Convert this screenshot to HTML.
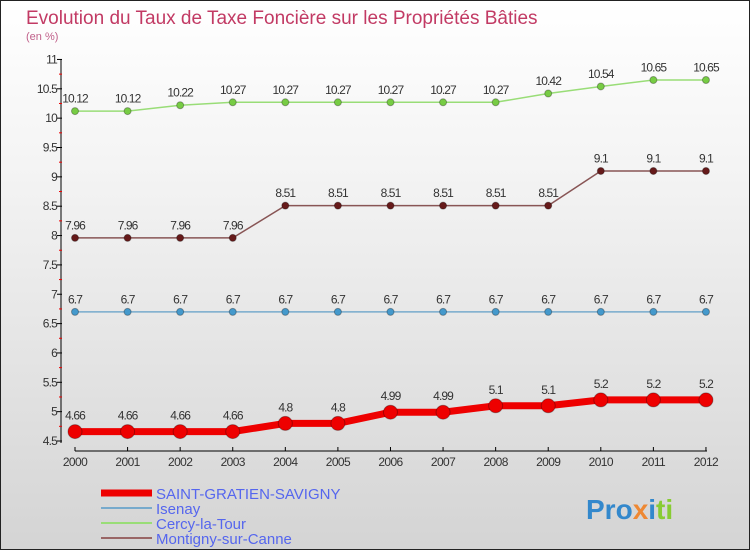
<!DOCTYPE html>
<html><head><meta charset="utf-8"><style>
body{margin:0;}
#c{width:748px;height:548px;border:1px solid #222;background:linear-gradient(#fff,#f4f4f4 30%,#d4d4d4);position:relative;font-family:"Liberation Sans",sans-serif;overflow:hidden}
</style></head><body>
<div id="c">
<svg id="s" width="748" height="548"></svg>
</div>
<script>
const years=[2000,2001,2002,2003,2004,2005,2006,2007,2008,2009,2010,2011,2012];
const saint=[4.66,4.66,4.66,4.66,4.8,4.8,4.99,4.99,5.1,5.1,5.2,5.2,5.2];
const isenay=[6.7,6.7,6.7,6.7,6.7,6.7,6.7,6.7,6.7,6.7,6.7,6.7,6.7];
const cercy=[10.12,10.12,10.22,10.27,10.27,10.27,10.27,10.27,10.27,10.42,10.54,10.65,10.65];
const montigny=[7.96,7.96,7.96,7.96,8.51,8.51,8.51,8.51,8.51,8.51,9.1,9.1,9.1];
const yTicks=[4.5,5,5.5,6,6.5,7,7.5,8,8.5,9,9.5,10,10.5,11];
const NS="http://www.w3.org/2000/svg",s=document.getElementById('s');
const X=i=>74+i*52.58, Y=v=>440-(v-4.5)*58.7;
function el(t,a,p){const e=document.createElementNS(NS,t);for(const k in a)e.setAttribute(k,a[k]);(p||s).appendChild(e);return e;}
let t=el('text',{x:25,y:23,fill:'#c23a64','font-size':19});t.textContent='Evolution du Taux de Taxe Foncière sur les Propriétés Bâties';

t=el('text',{x:25,y:39,fill:'#c0608a','font-size':11});t.textContent='(en %)';

el('line',{x1:60,y1:58,x2:60,y2:442,stroke:'#000'});
el('line',{x1:74,y1:450,x2:706,y2:450,stroke:'#000'});
yTicks.forEach(v=>{el('line',{x1:56,x2:61,y1:Y(v),y2:Y(v),stroke:'#000'});
 el('line',{x1:58,x2:61,y1:Y(v+0.25),y2:Y(v+0.25),stroke:v<11?'#e00':'none'});
 const l=el('text',{x:56,y:Y(v)+4,'text-anchor':'end','font-size':12,fill:'#333','letter-spacing':'-0.8'});l.textContent=v;
 });
years.forEach((y,i)=>{el('line',{x1:X(i),x2:X(i),y1:446,y2:450,stroke:'#000'});
 const l=el('text',{x:X(i),y:465,'text-anchor':'middle','font-size':12,fill:'#333','letter-spacing':'-0.6'});l.textContent=y;
 });
function series(d,col,dot,w,r,name){
 const p=el('polyline',{points:d.map((v,i)=>X(i)+','+Y(v)).join(' '),fill:'none',stroke:col,'stroke-width':w});
 
 d.forEach((v,i)=>{const c=el('circle',{cx:X(i),cy:Y(v),r:r,fill:dot,stroke:'rgba(0,0,0,0.3)'});
  
  const l=el('text',{x:X(i),y:Y(v)-(r+5),'text-anchor':'middle','font-size':12,fill:'#333','letter-spacing':'-0.9'});l.textContent=v;
  });
}
series(cercy,'#99dd77','#77cc44',1.5,3.5,'cercy');
series(montigny,'#885555','#661a1a',1.5,3.5,'montigny');
series(isenay,'#77aacc','#4499cc',1.5,3.5,'isenay');
series(saint,'#ee0000','#ee0000',7,7,'saint-gratien');
const leg=[['SAINT-GRATIEN-SAVIGNY','#ee0000',7],['Isenay','#77aacc',2],['Cercy-la-Tour','#99dd77',2],['Montigny-sur-Canne','#996666',2]];
leg.forEach((g,i)=>{const y=492+i*15;
 const gg=el('g',{});
 el('line',{x1:100,x2:151,y1:y,y2:y,stroke:g[1],'stroke-width':g[2]},gg);
 const l=el('text',{x:155,y:y+6,'font-size':15,fill:'#5566ee'},gg);l.textContent=g[0];});
t=el('text',{x:585,y:518,'font-size':28,'font-weight':'bold',fill:'#3388cc'});t.innerHTML='Pro<tspan fill="#ee8833">x</tspan>i<tspan fill="#88cc33">ti</tspan>';

</script>
</body></html>
